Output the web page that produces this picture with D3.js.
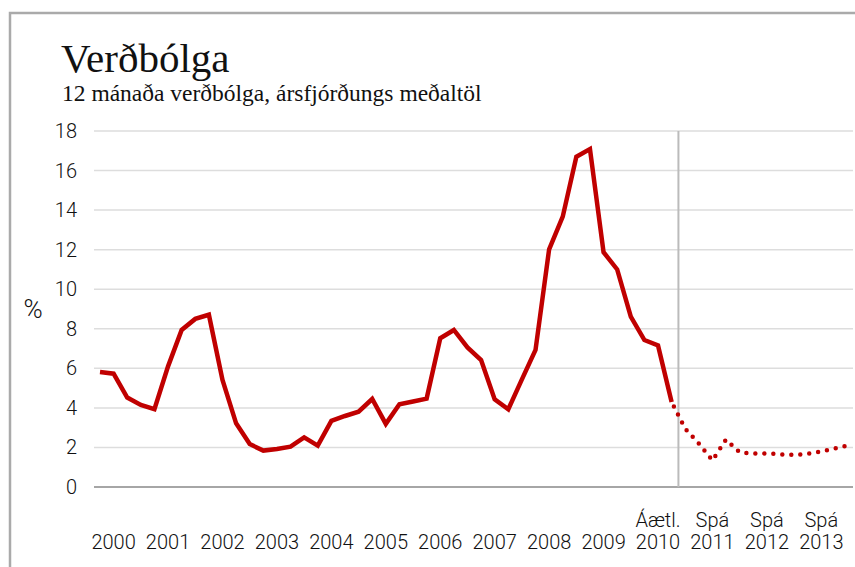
<!DOCTYPE html>
<html lang="is">
<head>
<meta charset="UTF-8">
<title>Verðbólga</title>
<script src="https://d3js.org/d3.v7.min.js"></script>
<style>
  body { margin: 0; background: #fff; }
  svg { display: block; }
  .title { font-family: "Liberation Serif", serif; font-size: 41px; fill: #111; }
  .subtitle { font-family: "Liberation Serif", serif; font-size: 23.5px; fill: #111; }
  .tick-label { font-family: Roboto, sans-serif; font-weight: 300; font-size: 20px; fill: #111; }
</style>
</head>
<body>
<svg id="chart" width="855" height="567"></svg>
<script>
// 12 month inflation, quarterly averages, 2000 Q1 .. 2010 Q3
var actual = [5.81, 5.73, 4.52, 4.15, 3.94, 6.1, 7.94, 8.5, 8.71, 5.41, 3.22, 2.17,
  1.84, 1.92, 2.04, 2.51, 2.09, 3.34, 3.59, 3.81, 4.45, 3.19, 4.18, 4.32,
  4.47, 7.52, 7.94, 7.06, 6.42, 4.43, 3.93, 5.44, 6.93, 12.02, 13.67, 16.7,
  17.09, 11.87, 11.0, 8.61, 7.43, 7.16, 4.3];
// forecast, 2010 Q3 .. 2013 Q4 (starts at last actual point)
var forecast = [4.3, 2.95, 2.2, 1.35, 2.4, 1.75, 1.7, 1.7, 1.65, 1.62, 1.68, 1.8, 1.95, 2.1];
var forecastStart = 42; // quarter index where the forecast begins

var years = [2000, 2001, 2002, 2003, 2004, 2005, 2006, 2007, 2008, 2009, 2010, 2011, 2012, 2013];
var yearTags = {2010: "Áætl.", 2011: "Spá", 2012: "Spá", 2013: "Spá"};
var yTicks = [0, 2, 4, 6, 8, 10, 12, 14, 16, 18];
var splitAt = 2010.625; // vertical divider between outcome and forecast

var svg = d3.select("#chart");

// frame around the graphic
svg.append("path")
  .attr("d", "M10,570 V13 H860")
  .attr("fill", "none")
  .attr("stroke", "#aaa")
  .attr("stroke-width", 2.5);

svg.append("text").attr("class", "title")
  .attr("x", 61).attr("y", 72)
  .text("Verðbólga");
svg.append("text").attr("class", "subtitle")
  .attr("x", 62).attr("y", 101)
  .text("12 mánaða verðbólga,  ársfjórðungs meðaltöl");

// scales
var x = d3.scaleLinear().domain([2000, 2001]).range([100, 154.44]);
var y = d3.scaleLinear().domain([0, 18]).range([487, 131]);
var gridLeft = 94, gridRight = 853;
var qx = i => x(2000 + i / 4);

// grid
svg.append("g").selectAll("line")
  .data(yTicks.filter(d => d > 0))
  .enter().append("line")
  .attr("x1", gridLeft).attr("x2", gridRight)
  .attr("y1", d => y(d)).attr("y2", d => y(d))
  .attr("stroke", "#ddd")
  .attr("stroke-width", 1.5);

// y labels
svg.append("g").selectAll("text")
  .data(yTicks)
  .enter().append("text")
  .attr("class", "tick-label")
  .attr("x", 77)
  .attr("y", d => y(d))
  .attr("dy", "0.35em")
  .attr("text-anchor", "end")
  .text(d => d);

svg.append("text").attr("class", "tick-label")
  .attr("x", 33).attr("y", y(9)).attr("dy", "0.35em")
  .attr("text-anchor", "middle")
  .style("font-size", "26px")
  .text("%");

// baseline
svg.append("line")
  .attr("x1", gridLeft).attr("x2", gridRight)
  .attr("y1", y(0)).attr("y2", y(0))
  .attr("stroke", "#888")
  .attr("stroke-width", 1.5);

// divider
svg.append("line")
  .attr("x1", x(splitAt)).attr("x2", x(splitAt))
  .attr("y1", y(18)).attr("y2", y(0))
  .attr("stroke", "#bbb")
  .attr("stroke-width", 2);

// x labels
var xl = svg.append("g").selectAll("g")
  .data(years)
  .enter().append("g")
  .attr("transform", d => "translate(" + x(d + 0.25) + ",0)");
xl.append("text")
  .attr("class", "tick-label")
  .attr("text-anchor", "middle")
  .attr("y", 549)
  .text(d => d);
xl.filter(d => yearTags[d])
  .append("text")
  .attr("class", "tick-label")
  .attr("text-anchor", "middle")
  .attr("y", 527)
  .text(d => yearTags[d]);

// lines
var line = d3.line()
  .x(d => qx(d[0]))
  .y(d => y(d[1]));

svg.append("path")
  .datum(actual.map((v, i) => [i, v]))
  .attr("d", line)
  .attr("fill", "none")
  .attr("stroke", "#c00000")
  .attr("stroke-width", 4.5);

svg.append("path")
  .datum(forecast.map((v, i) => [forecastStart + i, v]))
  .attr("d", line)
  .attr("fill", "none")
  .attr("stroke", "#c00000")
  .attr("stroke-width", 4.5)
  .attr("stroke-linecap", "round")
  .attr("stroke-dasharray", "0 9")
  .attr("stroke-dashoffset", 4);
</script>
</body>
</html>
